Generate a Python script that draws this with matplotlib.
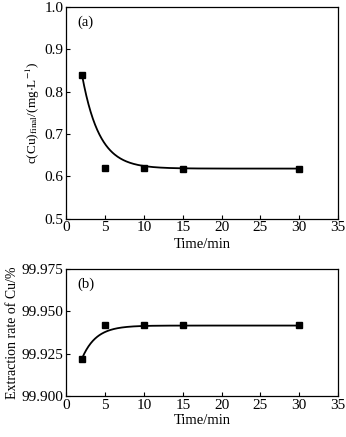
import numpy as np
import matplotlib.pyplot as plt

plt.rcParams['font.family'] = ['Liberation Serif', 'DejaVu Serif']
plt.rcParams['mathtext.fontset'] = 'stix'

time_min = [2, 5, 10, 15, 30]
cu_final = [0.840, 0.620, 0.620, 0.617, 0.617]
extraction = [99.922, 99.942, 99.942, 99.942, 99.942]

# fitted curves (exponential approach to plateau)
fit_a = (0.618, 0.222, 0.45)
fit_b = (99.9415, -0.0195, 0.55)


def fit_curve(params, t):
    a, b, k = params
    return a + b * np.exp(-k * (t - 2))


t_fit = np.linspace(2, 30, 300)

fig = plt.figure(figsize=(3.46, 4.37), dpi=100)
ax1 = fig.add_axes([0.192, 0.500, 0.785, 0.484])
ax2 = fig.add_axes([0.192, 0.094, 0.785, 0.291])

ax1.plot(t_fit, fit_curve(fit_a, t_fit), 'k-', lw=1.3)
ax1.plot(time_min, cu_final, 'ks', ms=4)
ax1.set_xlim(0, 35)
ax1.set_ylim(0.5, 1.0)
ax1.set_yticks([0.5, 0.6, 0.7, 0.8, 0.9, 1.0])
ax1.set_xticks(range(0, 36, 5))
ax1.set_xlabel('Time/min', fontsize=10.5, labelpad=3)
ax1.set_ylabel(r'c(Cu)$_{\rm final}$/(mg$\cdot$L$^{-1}$)', fontsize=9.5, labelpad=2)
ax1.text(0.04, 0.96, '(a)', transform=ax1.transAxes, fontsize=10.5, va='top')

ax2.plot(t_fit, fit_curve(fit_b, t_fit), 'k-', lw=1.3)
ax2.plot(time_min, extraction, 'ks', ms=4)
ax2.set_xlim(0, 35)
ax2.set_ylim(99.900, 99.975)
ax2.set_yticks([99.900, 99.925, 99.950, 99.975])
ax2.set_yticklabels(['99.900', '99.925', '99.950', '99.975'])
ax2.set_xticks(range(0, 36, 5))
ax2.set_xlabel('Time/min', fontsize=10.5, labelpad=2)
ax2.set_ylabel('Extraction rate of Cu/%', fontsize=10, labelpad=2)
ax2.text(0.04, 0.93, '(b)', transform=ax2.transAxes, fontsize=10.5, va='top')

for ax in (ax1, ax2):
    ax.tick_params(direction='in', labelsize=11, length=3, pad=2)
    for s in ax.spines.values():
        s.set_linewidth(0.9)

fig.savefig('out.png', dpi=100)
